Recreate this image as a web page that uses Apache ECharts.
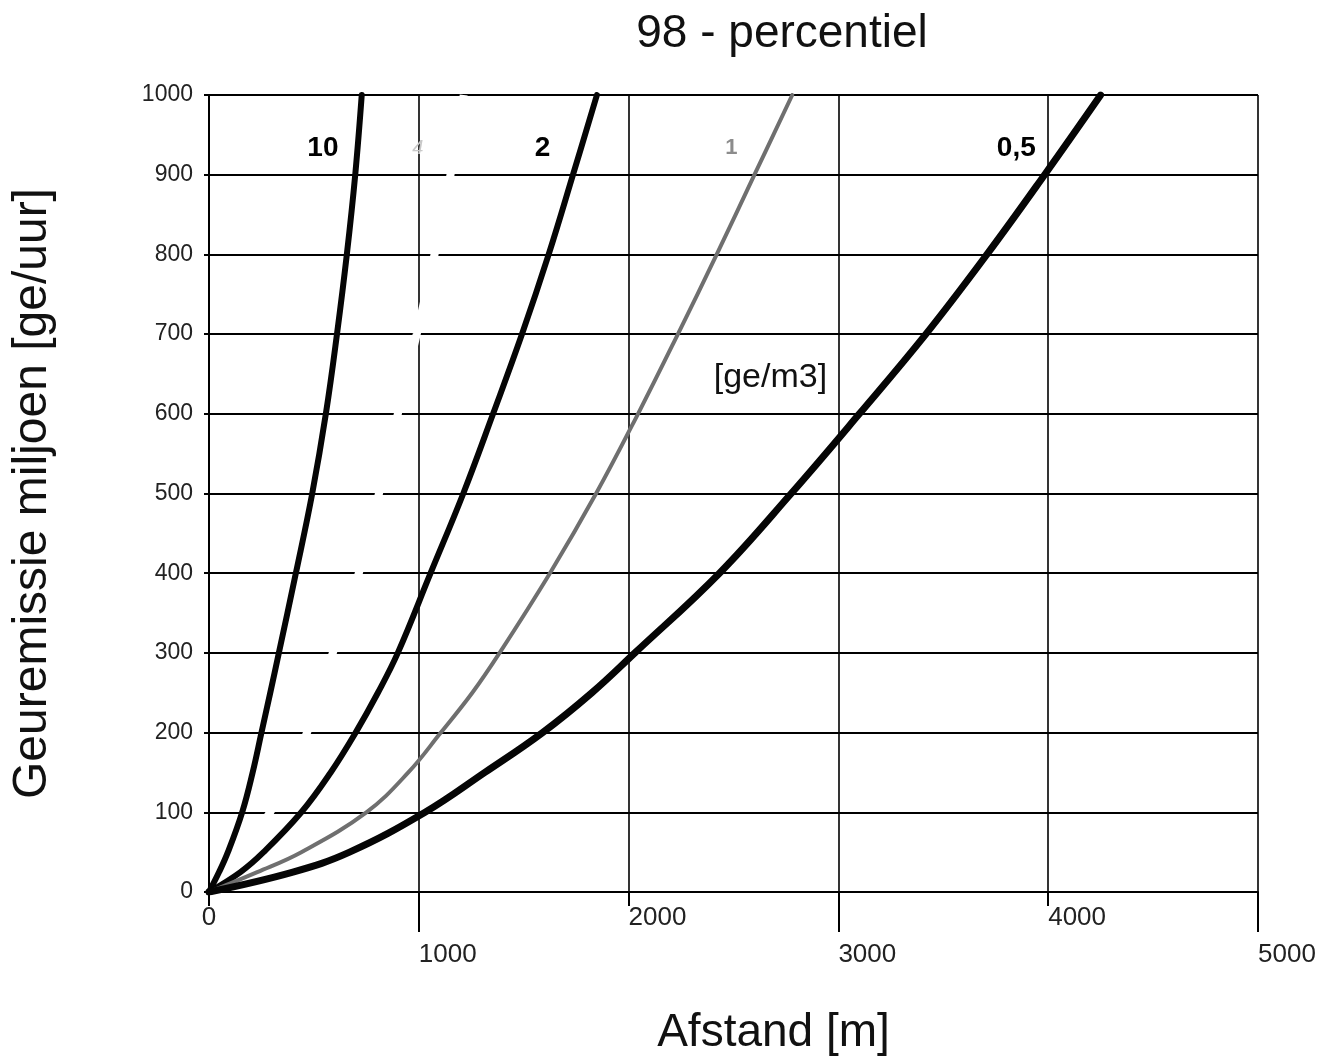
<!DOCTYPE html>
<html>
<head>
<meta charset="utf-8">
<script src="https://cdn.jsdelivr.net/npm/echarts@6/dist/echarts.min.js"></script>
<style>
  html, body { margin: 0; padding: 0; background: #ffffff; }
  #chart { width: 1335px; height: 1063px; }
</style>
</head>
<body>
<div id="chart"></div>
<script>
// Geuremissie (miljoen ge/uur) op de verticale as
const emissie = [0, 25, 50, 100, 150, 200, 250, 300, 400, 500, 600, 700, 800, 900, 1000];

// Afstand [m] waarop de 98-percentiel concentratie wordt bereikt, per contour [ge/m3]
const afstand10 = [0, 48, 90, 158, 208, 250, 292, 333, 414, 492, 557, 610, 657, 697, 728];
const afstand4  = [null, null, 150, 291, 385, 467, 530, 590, 714, 810, 900, 990, 1075, 1151, 1214];
const afstand2  = [0, 150, 260, 440, 580, 699, 805, 900, 1056, 1212, 1354, 1492, 1619, 1735, 1849];
const afstand1  = [0, 230, 440, 750, 950, 1105, 1255, 1385, 1625, 1845, 2045, 2235, 2420, 2600, 2780];
const afstand05 = [0, 400, 670, 1030, 1315, 1590, 1825, 2030, 2433, 2775, 3100, 3417, 3708, 3983, 4250];

// As-instellingen
const xTicks = [0, 1000, 2000, 3000, 4000, 5000];
const yTicks = [0, 100, 200, 300, 400, 500, 600, 700, 800, 900, 1000];

// Contourlabels (tekst en plaats in data-eenheden)
const contourLabels = [
  { text: '10', x: 543, y: 933, kind: 'bold' },
  { text: '4', x: 995, y: 933, kind: 'faint' },
  { text: '2', x: 1590, y: 933, kind: 'bold' },
  { text: '1', x: 2490, y: 933, kind: 'grey' },
  { text: '0,5', x: 3848, y: 933, kind: 'bold' },
  { text: '[ge/m3]', x: 2676, y: 645, kind: 'unit' }
];

const FONT = "'Liberation Sans', Arial, Helvetica, sans-serif";

function pairs(xs) {
  const out = [];
  xs.forEach((x, i) => { if (x !== null) out.push([x, emissie[i]]); });
  return out;
}

const labelStyles = {
  bold:  { fontSize: 28, fontWeight: 'bold', color: '#000' },
  faint: { fontSize: 20, fontWeight: 'normal', color: '#c8c8c8', fontStyle: 'italic' },
  grey:  { fontSize: 22, fontWeight: 'bold', color: '#8c8c8c' },
  unit:  { fontSize: 34, fontWeight: 'normal', color: '#111' }
};

const chart = echarts.init(document.getElementById('chart'), null, { renderer: 'canvas' });

const curveStyle = (color, width) => ({ color: color, width: width, cap: 'round', join: 'round' });

chart.setOption({
  backgroundColor: '#ffffff',
  animation: false,
  title: {
    text: '98 - percentiel',
    left: 777,
    top: 6,
    textAlign: 'center',
    textStyle: { fontSize: 46, fontWeight: 'normal', color: '#111', fontFamily: FONT }
  },
  grid: { left: 209, right: 77, top: 95, bottom: 171, containLabel: false },
  xAxis: [
    {
      type: 'value',
      min: 0, max: 5000, interval: 1000,
      name: 'Afstand [m]',
      nameLocation: 'middle',
      nameGap: 118,
      nameTextStyle: { fontSize: 46, color: '#111', fontFamily: FONT, padding: [0, 0, 0, 80] },
      axisLine: { show: true, lineStyle: { color: '#000', width: 2 } },
      axisTick: { show: true, inside: false, length: 14, lineStyle: { color: '#000', width: 2 } },
      splitLine: { show: true, lineStyle: { color: '#000', width: 1.6 } },
      axisLabel: {
        show: true,
        customValues: [0],
        margin: 7,
        fontSize: 26,
        color: '#222',
        fontFamily: FONT,
        lineHeight: 37,
        align: 'center'
      }
    },
    {
      type: 'value',
      min: 0, max: 5000, interval: 1000,
      position: 'bottom',
      axisLine: { show: false },
      splitLine: { show: false },
      axisTick: {
        show: true,
        customValues: [1000, 3000, 5000],
        length: 40,
        lineStyle: { color: '#000', width: 2 }
      },
      axisLabel: {
        show: true,
        customValues: xTicks.slice(1),
        margin: 7,
        fontSize: 26,
        color: '#222',
        fontFamily: FONT,
        lineHeight: 37,
        align: 'left',
        formatter: function (v) {
          return (v / 1000) % 2 === 1 ? '\n' + v : String(v);
        }
      }
    }
  ],
  yAxis: {
    type: 'value',
    min: 0, max: 1000, interval: 100,
    name: 'Geuremissie miljoen [ge/uur]',
    nameLocation: 'middle',
    nameGap: 152,
    nameRotate: 90,
    nameTextStyle: { fontSize: 48, color: '#111', fontFamily: FONT },
    axisLine: { show: true, lineStyle: { color: '#000', width: 2 } },
    axisTick: { show: true, length: 5, lineStyle: { color: '#000', width: 2 } },
    splitLine: { show: true, lineStyle: { color: '#000', width: 2 } },
    axisLabel: {
      margin: 16,
      fontSize: 23,
      color: '#222',
      fontFamily: FONT,
      formatter: function (v) { return yTicks.indexOf(v) >= 0 ? String(v) : ''; }
    }
  },
  series: [
    {
      // contour 4 ge/m3, uitgespaard in wit
      name: '4',
      type: 'line',
      z: 1,
      data: pairs(afstand4),
      smooth: 0.4,
      showSymbol: false,
      lineStyle: { color: '#ffffff', width: 8, cap: 'butt' },
      silent: true
    },
    {
      name: '10',
      type: 'line',
      z: 3,
      data: pairs(afstand10),
      smooth: 0.4,
      showSymbol: false,
      lineStyle: curveStyle('#050505', 6)
    },
    {
      name: '2',
      type: 'line',
      z: 3,
      data: pairs(afstand2),
      smooth: 0.4,
      showSymbol: false,
      lineStyle: curveStyle('#050505', 6)
    },
    {
      name: '1',
      type: 'line',
      z: 3,
      data: pairs(afstand1),
      smooth: 0.4,
      showSymbol: false,
      lineStyle: curveStyle('#6f6f6f', 4)
    },
    {
      name: '0,5',
      type: 'line',
      z: 3,
      data: pairs(afstand05),
      smooth: 0.4,
      showSymbol: false,
      lineStyle: curveStyle('#050505', 7)
    },
    {
      name: 'labels',
      type: 'scatter',
      z: 4,
      silent: true,
      symbolSize: 1,
      itemStyle: { color: 'rgba(0,0,0,0)', opacity: 1 },
      data: contourLabels.map(l => ({
        value: [l.x, l.y],
        label: Object.assign({
          show: true,
          position: 'inside',
          formatter: l.text,
          fontFamily: FONT,
          opacity: 1
        }, labelStyles[l.kind])
      }))
    }
  ]
});
</script>
</body>
</html>
